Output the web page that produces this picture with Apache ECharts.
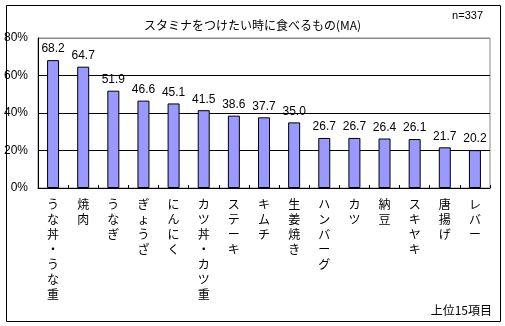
<!DOCTYPE html>
<html><head><meta charset="utf-8">
<script src="https://cdn.jsdelivr.net/npm/echarts@6/dist/echarts.min.js"></script>
<style>html,body{margin:0;padding:0;background:#fff}#c{width:505px;height:326px}</style>
</head><body><div id="c"></div>
<script>
const categories = ['うな丼・うな重','焼肉','うなぎ','ぎょうざ','にんにく','カツ丼・カツ重','ステーキ','キムチ','生姜焼き','ハンバーグ','カツ','納豆','スキヤキ','唐揚げ','レバー'];
const values = [68.2,64.7,51.9,46.6,45.1,41.5,38.6,37.7,35.0,26.7,26.7,26.4,26.1,21.7,20.2];
const yTicks = [0,20,40,60,80];
const titleText = 'スタミナをつけたい時に食べるもの(MA)';
const sampleText = 'n=337';
const noteText = '上位15項目';

const jp = '"MS PGothic","Noto Sans CJK JP",sans-serif';
const num = '"Liberation Sans",Arial,sans-serif';
const chart = echarts.init(document.getElementById('c'), null, {renderer:'canvas'});
chart.setOption({
  animation:false,
  backgroundColor:'#fff',
  title:{text:titleText,left:'center',top:14,textStyle:{fontSize:12,fontWeight:'normal',color:'#000',fontFamily:jp}},
  graphic:[
    {type:'rect',shape:{x:6.5,y:5.5,width:494,height:316},style:{fill:'none',stroke:'#000',lineWidth:1},silent:true},
    {type:'text',right:22,top:10,style:{text:sampleText,fontSize:11,fill:'#000',fontFamily:num}},
    {type:'text',right:13,top:304,style:{text:noteText,fontSize:12,fill:'#000',fontFamily:jp}}
  ],
  grid:{left:38,right:15,top:38,bottom:138,show:true,borderColor:'#888',borderWidth:1,containLabel:false},
  xAxis:{type:'category',data:categories,
    axisLine:{lineStyle:{color:'#000',width:1}},
    axisTick:{show:true,inside:true,length:3,lineStyle:{color:'#000'}},
    axisLabel:{interval:0,margin:9,fontSize:12,lineHeight:15,color:'#000',fontFamily:jp,
      formatter:v=>v.split('').join('\n'),verticalAlign:'top'}},
  yAxis:{type:'value',min:yTicks[0],max:yTicks[yTicks.length-1],interval:20,
    axisLine:{show:true,lineStyle:{color:'#000'}},axisTick:{show:false},
    axisLabel:{formatter:'{value}%',fontSize:12,color:'#000',margin:10,fontFamily:num},
    splitLine:{show:true,lineStyle:{color:['#000','#000','#000','#000','#888'],width:1}}},
  series:[{type:'bar',data:values,barWidth:12,
    itemStyle:{color:'#9999FF',borderColor:'#000',borderWidth:1},
    label:{show:true,position:'top',distance:5,fontSize:12,color:'#000',fontFamily:num,
      formatter:p=>p.value.toFixed(1)}}]
});
</script></body></html>
